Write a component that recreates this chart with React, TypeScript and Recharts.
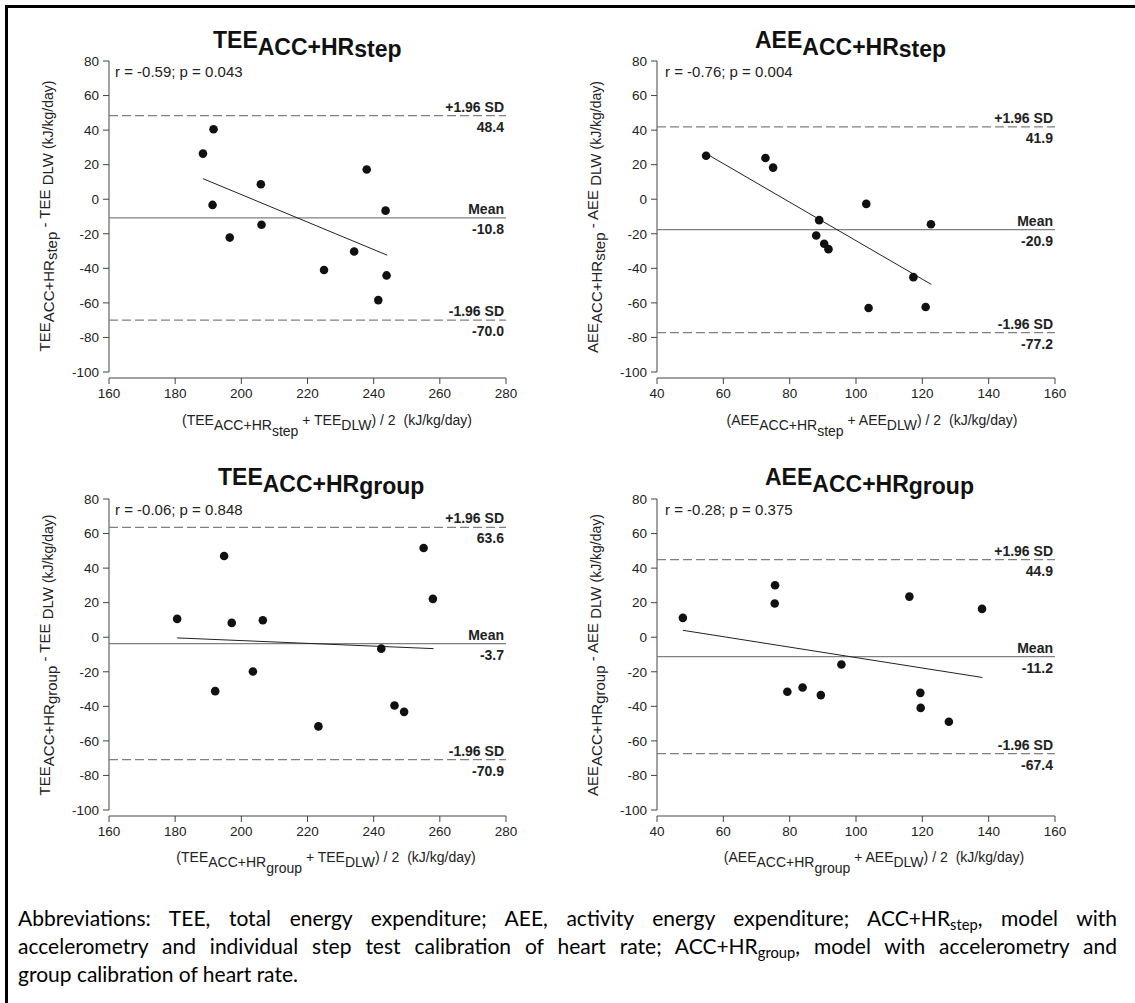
import { ScatterChart, Scatter, XAxis, YAxis, ReferenceLine } from "recharts"

// mean of methods (x) and difference (y)
const teeStepMean = [188.4, 191.6, 191.3, 196.5, 205.9, 206.1, 225.0, 234.1, 237.9, 243.6, 243.9, 241.4]
const teeStepDiff = [26.4, 40.5, -3.3, -22.2, 8.7, -14.8, -41.0, -30.3, 17.2, -6.6, -44.1, -58.4]
const teeStepFit = [[188.4, 11.9], [244.1, -32.4]]
const teeStepLimits = [48.4, -10.8, -70.0]
const teeStepLabels = ["48.4", "-10.8", "-70.0"]

const aeeStepMean = [54.8, 72.7, 75.0, 88.9, 88.0, 90.4, 91.7, 103.1, 103.8, 117.3, 121.0, 122.6]
const aeeStepDiff = [25.2, 23.9, 18.3, -12.1, -21.0, -25.8, -28.9, -2.7, -63.0, -45.1, -62.4, -14.5]
const aeeStepFit = [[54.8, 26.4], [122.7, -49.3]]
const aeeStepLimits = [41.9, -17.6, -77.2]
const aeeStepLabels = ["41.9", "-20.9", "-77.2"]

const teeGroupMean = [180.6, 192.1, 194.8, 197.1, 203.5, 206.5, 223.3, 242.3, 246.3, 249.2, 255.1, 257.9]
const teeGroupDiff = [10.6, -31.2, 47.0, 8.3, -19.8, 9.8, -51.6, -6.6, -39.5, -43.2, 51.6, 22.2]
const teeGroupFit = [[180.6, -0.4], [258.1, -6.6]]
const teeGroupLimits = [63.6, -3.7, -70.9]
const teeGroupLabels = ["63.6", "-3.7", "-70.9"]

const aeeGroupMean = [47.8, 75.6, 75.5, 79.3, 83.9, 89.4, 95.6, 116.1, 119.4, 119.5, 128.0, 138.0]
const aeeGroupDiff = [11.2, 30.1, 19.5, -31.6, -29.1, -33.5, -15.8, 23.5, -32.2, -40.9, -48.9, 16.4]
const aeeGroupFit = [[47.8, 4.0], [138.1, -23.3]]
const aeeGroupLimits = [44.9, -11.2, -67.4]
const aeeGroupLabels = ["44.9", "-11.2", "-67.4"]

const teeTicks = [160, 180, 200, 220, 240, 260, 280]
const aeeTicks = [40, 60, 80, 100, 120, 140, 160]
const diffTicks = [-100, -80, -60, -40, -20, 0, 20, 40, 60, 80]

const limitNames = ["+1.96 SD", "Mean", "-1.96 SD"]

const W = 1135
const H = 1003
const FONT = "'Liberation Sans', Arial, sans-serif"
const AXIS = "#444"
const Y_AXIS_W = 45
const X_AXIS_H = 30

const limitLabel = (above: string, below: string) => (props: any) => {
  const vb = props?.viewBox || {}
  const x = (vb.x ?? 0) + (vb.width ?? 0) - 2
  const y = vb.y ?? 0
  return (
    <g>
      <text x={x} y={y - 4} textAnchor="end" fontFamily={FONT} fontSize={14} fontWeight="bold" fill="#222">
        {above}
      </text>
      <text x={x} y={y + 16} textAnchor="end" fontFamily={FONT} fontSize={14} fontWeight="bold" fill="#222">
        {below}
      </text>
    </g>
  )
}

function Panel({
  box,
  xs,
  ys,
  fit,
  limits,
  labels,
  xTicks,
}: {
  box: { left: number; right: number; top: number; bottom: number }
  xs: number[]
  ys: number[]
  fit: number[][]
  limits: number[]
  labels: string[]
  xTicks: number[]
}) {
  const data = xs.map((x, i) => ({ x, y: ys[i] }))
  const xMin = xTicks[0]
  const xMax = xTicks[xTicks.length - 1]
  const tickStyle = { fontSize: 13.5, fill: "#222", fontFamily: FONT }

  return (
    <div style={{ position: "absolute", left: 0, top: 0 }}>
      <ScatterChart
        width={W}
        height={H}
        margin={{
          top: box.top,
          left: box.left - Y_AXIS_W,
          right: W - box.right,
          bottom: H - box.bottom - X_AXIS_H,
        }}
      >
        <XAxis
          type="number"
          dataKey="x"
          domain={[xMin, xMax]}
          ticks={xTicks}
          interval={0}
          height={X_AXIS_H}
          tickSize={6}
          tickMargin={4}
          axisLine={{ stroke: AXIS }}
          tickLine={{ stroke: AXIS }}
          tick={tickStyle}
        />
        <YAxis
          type="number"
          dataKey="y"
          domain={[-100, 80]}
          ticks={diffTicks}
          interval={0}
          width={Y_AXIS_W}
          tickSize={6}
          tickMargin={4}
          padding={{ top: 0, bottom: 6 }}
          axisLine={false}
          tickLine={{ stroke: AXIS }}
          tick={tickStyle}
        />
        <ReferenceLine
          segment={[
            { x: xMin, y: -100 },
            { x: xMin, y: 80 },
          ]}
          stroke={AXIS}
        />
        {limits.map((v, i) => (
          <ReferenceLine
            key={i}
            y={v}
            stroke="#808080"
            strokeWidth={1.2}
            strokeDasharray={i === 1 ? undefined : "9 4"}
            label={limitLabel(limitNames[i], labels[i])}
          />
        ))}
        <ReferenceLine
          segment={[
            { x: fit[0][0], y: fit[0][1] },
            { x: fit[1][0], y: fit[1][1] },
          ]}
          stroke="#222"
          strokeWidth={1}
        />
        <Scatter
          data={data}
          isAnimationActive={false}
          shape={(p: any) => <circle cx={p.cx} cy={p.cy} r={4.3} fill="#111" />}
        />
      </ScatterChart>
    </div>
  )
}

function Title({ x, y, main, sub, subsub }: { x: number; y: number; main: string; sub: string; subsub: string }) {
  return (
    <text x={x} y={y} fontFamily={FONT} fontSize={23} fontWeight="bold" fill="#111">
      {main}
      <tspan dy={7}>{sub}</tspan>
      <tspan dy={2}>{subsub}</tspan>
    </text>
  )
}

function YLabel({ x, y, v, model }: { x: number; y: number; v: string; model: string }) {
  return (
    <text transform={`translate(${x},${y}) rotate(-90)`} textAnchor="middle" fontFamily={FONT} fontSize={15} fill="#222">
      {v}
      <tspan dy={4}>ACC+HR</tspan>
      <tspan dy={3}>{model}</tspan>
      <tspan dy={-7}>{` - ${v} `}</tspan>
      <tspan dy={3}>DLW</tspan>
      <tspan dx={4} fontSize={14}>(kJ/kg/day)</tspan>
    </text>
  )
}

function XLabel({ x, y, v, model }: { x: number; y: number; v: string; model: string }) {
  return (
    <text x={x} y={y} textAnchor="middle" fontFamily={FONT} fontSize={14} fill="#222">
      {`(${v}`}
      <tspan dy={5}>ACC+HR</tspan>
      <tspan dy={6}>{model}</tspan>
      <tspan dy={-11}>{` + ${v}`}</tspan>
      <tspan dy={5}>DLW</tspan>
      <tspan dy={-5}>) / 2</tspan>
      <tspan dx={8}>(kJ/kg/day)</tspan>
    </text>
  )
}

const sub = { fontSize: "0.7em", position: "relative" as const, top: "0.3em" }

export default function App() {
  const left1 = { left: 109, right: 506 }
  const left2 = { left: 657, right: 1055 }
  const row1 = { top: 61, bottom: 378 }
  const row2 = { top: 499, bottom: 816 }
  const stats = ["r = -0.59; p = 0.043", "r = -0.76; p = 0.004", "r = -0.06; p = 0.848", "r = -0.28; p = 0.375"]

  return (
    <div style={{ position: "relative", width: W, height: H, overflow: "hidden", background: "#fff" }}>
      <style>{"body{margin:0}"}</style>
      <div
        style={{
          position: "absolute",
          left: 5,
          top: 5,
          width: 1300,
          height: 1300,
          border: "3px solid #000",
        }}
      />
      <Panel box={{ ...left1, ...row1 }} xs={teeStepMean} ys={teeStepDiff} fit={teeStepFit} limits={teeStepLimits} labels={teeStepLabels} xTicks={teeTicks} />
      <Panel box={{ ...left2, ...row1 }} xs={aeeStepMean} ys={aeeStepDiff} fit={aeeStepFit} limits={aeeStepLimits} labels={aeeStepLabels} xTicks={aeeTicks} />
      <Panel box={{ ...left1, ...row2 }} xs={teeGroupMean} ys={teeGroupDiff} fit={teeGroupFit} limits={teeGroupLimits} labels={teeGroupLabels} xTicks={teeTicks} />
      <Panel box={{ ...left2, ...row2 }} xs={aeeGroupMean} ys={aeeGroupDiff} fit={aeeGroupFit} limits={aeeGroupLimits} labels={aeeGroupLabels} xTicks={aeeTicks} />

      <svg width={W} height={H} style={{ position: "absolute", left: 0, top: 0, pointerEvents: "none" }}>
        <Title x={213} y={48} main="TEE" sub="ACC+HR" subsub="step" />
        <Title x={755} y={48} main="AEE" sub="ACC+HR" subsub="step" />
        <Title x={218} y={485} main="TEE" sub="ACC+HR" subsub="group" />
        <Title x={765} y={485} main="AEE" sub="ACC+HR" subsub="group" />

        <text x={115} y={77} fontFamily={FONT} fontSize={15} fill="#222">{stats[0]}</text>
        <text x={665} y={77} fontFamily={FONT} fontSize={15} fill="#222">{stats[1]}</text>
        <text x={115} y={515} fontFamily={FONT} fontSize={15} fill="#222">{stats[2]}</text>
        <text x={665} y={515} fontFamily={FONT} fontSize={15} fill="#222">{stats[3]}</text>

        <YLabel x={50} y={216} v="TEE" model="step" />
        <YLabel x={598} y={217} v="AEE" model="step" />
        <YLabel x={50} y={655} v="TEE" model="group" />
        <YLabel x={598} y={655} v="AEE" model="group" />

        <XLabel x={327} y={425} v="TEE" model="step" />
        <XLabel x={872} y={425} v="AEE" model="step" />
        <XLabel x={326} y={862} v="TEE" model="group" />
        <XLabel x={874} y={862} v="AEE" model="group" />
      </svg>

      <div
        style={{
          position: "absolute",
          left: 18,
          top: 905,
          width: 1099,
          fontFamily: "Lato, 'Open Sans', sans-serif",
          fontSize: 21,
          lineHeight: "25px",
          color: "#000",
        }}
      >
        <div style={{ textAlign: "justify", textAlignLast: "justify", whiteSpace: "nowrap" }}>
          Abbreviations: TEE, total energy expenditure; AEE, activity energy expenditure; ACC+HR
          <span style={sub}>step</span>, model with
        </div>
        <div style={{ textAlign: "justify", textAlignLast: "justify", whiteSpace: "nowrap" }}>
          accelerometry and individual step test calibration of heart rate; ACC+HR
          <span style={sub}>group</span>, model with accelerometry and
        </div>
        <div>group calibration of heart rate.</div>
      </div>
    </div>
  )
}
